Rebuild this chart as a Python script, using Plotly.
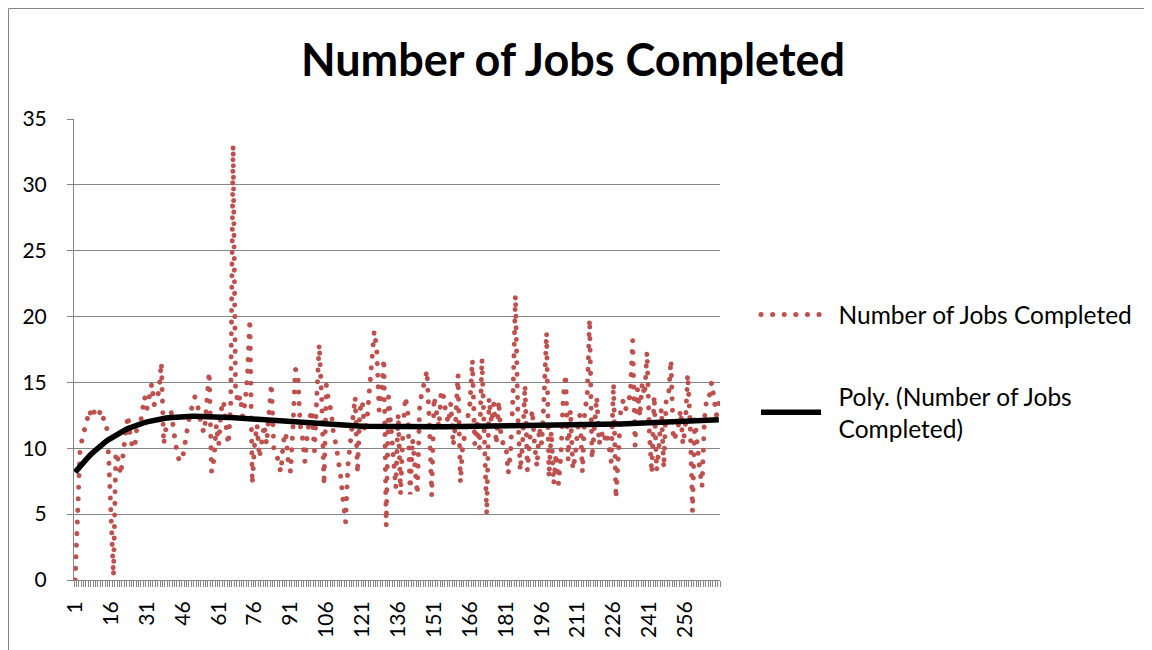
import numpy as np
import plotly.graph_objects as go

# values per category
jobs_completed = [
    0, 6.5, 9.8, 10.8, 11.6, 12.4, 12.9, 12.3, 12.8, 12.4,
    12.6, 12.9, 12.1, 12.0, 9.3, 5.0, 0.3, 9.7, 9.1, 8.0,
    9.8, 11.3, 12.5, 11.0, 10.0, 10.2, 12.0, 11.6, 13.1, 13.9,
    13.0, 14.2, 14.9, 13.3, 13.8, 14.3, 16.5, 10.3, 11.6, 12.5,
    12.9, 11.2, 10.3, 9.3, 9.0, 9.4, 10.7, 11.6, 12.6, 13.3,
    13.9, 13.4, 12.2, 11.5, 11.2, 14.0, 15.8, 8.2, 9.2, 11.8,
    10.3, 12.9, 13.6, 11.8, 10.3, 13.2, 33.0, 14.6, 13.4, 14.0,
    12.4, 13.5, 15.5, 19.8, 7.3, 10.3, 11.8, 9.3, 10.6, 11.8,
    10.3, 12.9, 14.9, 10.0, 9.8, 8.8, 8.2, 10.5, 11.2, 9.0,
    8.2, 11.5, 16.0, 15.8, 11.8, 10.8, 9.0, 11.0, 12.3, 12.9,
    9.8, 14.0, 17.9, 13.9, 7.2, 14.8, 13.4, 12.9, 11.0, 10.3,
    9.3, 7.8, 6.0, 4.4, 8.7, 10.3, 11.8, 13.9, 8.1, 12.9,
    13.6, 11.2, 12.2, 14.5, 16.5, 18.9, 17.6, 12.9, 14.0, 16.8,
    4.1, 13.9, 11.6, 9.0, 7.0, 12.6, 6.5, 11.3, 13.9, 12.9,
    6.5, 10.7, 8.1, 6.5, 13.4, 14.2, 14.9, 15.9, 12.0, 6.4,
    13.9, 12.9, 11.6, 14.4, 13.9, 12.6, 11.9, 13.4, 10.2, 12.0,
    15.6, 7.4, 10.3, 11.1, 12.4, 13.4, 16.7, 10.3, 11.9, 10.0,
    16.8, 11.0, 5.0, 13.8, 11.9, 13.4, 10.3, 13.6, 10.8, 10.3,
    10.3, 8.1, 9.8, 14.0, 21.6, 12.6, 8.3, 10.3, 14.8, 8.3,
    11.0, 12.9, 10.3, 8.6, 11.6, 10.3, 14.0, 18.8, 7.8, 11.3,
    7.3, 9.6, 7.3, 9.4, 13.9, 15.6, 9.1, 12.9, 8.4, 9.4,
    11.4, 12.6, 8.2, 12.9, 13.9, 19.8, 9.2, 11.4, 13.9, 10.3,
    11.2, 10.5, 11.2, 10.3, 9.0, 14.9, 6.2, 9.3, 12.9, 13.6,
    12.9, 13.6, 14.0, 18.2, 10.2, 14.5, 12.4, 15.0, 14.0, 17.3,
    11.0, 8.1, 14.0, 8.3, 10.0, 13.0, 8.5, 13.6, 14.0, 16.7,
    10.6, 11.0, 11.6, 12.9, 10.3, 11.6, 15.6, 12.0, 5.2, 12.2,
    10.0, 8.5, 7.1, 12.2, 13.9, 13.9, 15.0, 13.4, 12.5, 13.4,
]
categories = list(range(1, len(jobs_completed) + 1))
label_cats = list(range(1, len(categories) + 1, 15))

# polynomial trendline fitted to the data, as Excel does
coef = np.polyfit(categories, jobs_completed, 6)
trend = np.polyval(coef, categories)

# plot area in figure pixels (page body adds an 8px offset)
L, R, T, B = 66, 712, 111, 572
W, H = 1152, 650
pw, ph = R - L, B - T

def px(x):
    return (x - L) / pw

def py(y):
    return (B - y) / ph

FONT = "Lato"
GRID = "#868686"
RED = "#C0504D"
NB = "\u00a0\u00a0"

fig = go.Figure()
fig.add_trace(go.Scatter(
    x=categories, y=jobs_completed, mode="lines",
    name=NB + "Number of Jobs Completed", legendgroup="a",
    line=dict(color=RED, width=5, dash="0.1px,11.5px"),
))
fig.add_trace(go.Scatter(
    x=categories, y=trend, mode="lines",
    name=NB + "Poly. (Number of Jobs<br>" + NB + "Completed)", legendgroup="b",
    line=dict(color="black", width=5.5),
))

fig.update_layout(
    width=W, height=H,
    margin=dict(l=L, r=W - R, t=T, b=H - B),
    paper_bgcolor="white", plot_bgcolor="white",
    font=dict(family=FONT, size=20, color="black"),
    title=dict(text="<b>Number of Jobs Completed</b>", x=(573 - 8) / W, xanchor="center",
               y=1 - 52 / H, yanchor="middle", yref="container",
               font=dict(size=45, family=FONT, color="black")),
    legend=dict(x=px(748), y=py(284), xanchor="left", yanchor="top",
                font=dict(size=24.5, family=FONT), itemwidth=60,
                tracegroupgap=47, bgcolor="rgba(0,0,0,0)"),
    shapes=[dict(type="rect", xref="paper", yref="paper",
                 x0=px(0.5), x1=px(1142), y0=py(660), y1=py(0.5),
                 line=dict(color=GRID, width=1))],
)
fig.update_xaxes(
    range=[0.5, len(categories) + 0.5], showgrid=False,
    showline=True, linecolor=GRID, linewidth=1,
    tickmode="array", tickvals=label_cats, ticktext=[str(c) for c in label_cats],
    tickangle=-90, ticks="", ticklen=0, tickfont=dict(size=21),
    ticklabelstandoff=12,
    minor=dict(tickmode="array", tickvals=[c + 0.5 for c in [0] + categories],
               ticks="outside", ticklen=6, tickcolor=GRID, tickwidth=1),
)
fig.update_yaxes(
    range=[0, 35], dtick=5, showgrid=True, gridcolor=GRID, gridwidth=1,
    showline=True, linecolor=GRID, linewidth=1, zeroline=False,
    ticks="outside", ticklen=6, tickcolor=GRID, tickfont=dict(size=21),
    ticklabelstandoff=16,
)

# round dots like Excel's "round dot" dash style
round_dots = """
document.querySelectorAll('path').forEach(function (p) {
  if ((p.style.stroke || '').replace(/ /g, '') === 'rgb(192,80,77)') {
    p.style.strokeLinecap = 'round';
  }
});
"""

fig.write_html("out.html", post_script=round_dots)
